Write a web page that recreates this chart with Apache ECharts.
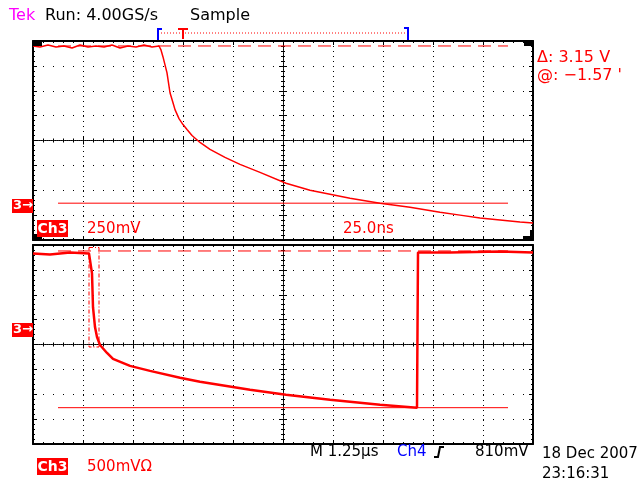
<!DOCTYPE html>
<html><head><meta charset="utf-8">
<script src="https://cdn.jsdelivr.net/npm/echarts@6/dist/echarts.min.js"></script>
<style>html,body{margin:0;padding:0;background:#fff}#c{width:639px;height:482px}</style>
</head><body><div id="c"></div>
<script>
// ---- Data ----
// Upper window: zoomed Ch3, 25.0 ns/div, 250 mV/div
const zoomTimeNs = [0,3.5,7.5,11.5,15.5,19.5,23.5,27.5,31.5,35.5,39.5,43.5,47.5,51.5,55.5,59.5,63,
  64,65,66,67,68.5,70,71,73,75,77,79.5,83.5,88.5,96,103.5,113.5,126.5,138.5,148.5,158.5,173.5,188.5,203.5,213.5,223.5,233.5,243.5,250];
const zoomVoltMv = [1590,1580,1600,1580,1590,1570,1600,1580,1590,1580,1600,1570,1590,1580,1600,1580,1590,
  1550,1480,1400,1320,1120,1020,950,860,800,750,690,620,550,470,400,320,210,140,100,60,10,-30,-80,-110,-140,-160,-180,-190];
// Lower window: main Ch3, 1.25 us/div, 500 mV/div
const mainTimeUs = [0,0.425,0.925,1.4,1.425,1.475,1.5,1.55,1.6,1.675,1.85,2.0,2.425,2.925,3.675,4.175,5.425,6.325,7.425,8.675,9.6,9.625,10.425,11.675,12.5];
const mainVoltMv = [1530,1510,1550,1530,1490,1130,450,50,-150,-310,-470,-590,-730,-830,-970,-1050,-1210,-1310,-1410,-1510,-1570,1550,1550,1570,1550];
// Cursor levels (mV)
const zoomCursorsMv = [1590, 10];
const mainCursorsMv = [1580, -1570];
// Zoom window position in main record (us)
const zoomWindowStartUs = 1.4;
const zoomWindowEndUs = 1.65;

// ---- Scales ----
const zoomNsPerDiv = 25, zoomMvPerDiv = 250, zoomGroundDiv = -2.56;
const mainUsPerDiv = 1.25, mainMvPerDiv = 500, mainGroundDiv = 0.6;
const zx = t => t / zoomNsPerDiv - 5;
const zy = v => v / zoomMvPerDiv + zoomGroundDiv;
const mx = t => t / mainUsPerDiv - 5;
const my = v => v / mainMvPerDiv + mainGroundDiv;

const RED = '#ff0000', BLK = '#000000', BLUE = '#0000ff';
const grids = [
  {left:33, top:41, width:500, height:199, show:false},
  {left:33, top:245, width:500, height:199, show:false}
];
function xAx(g, pos, offset, split, center) {
  return {type:'value', gridIndex:g, min:-5, max:5, interval:1, position:pos, offset:offset,
    axisLine:{show:true, onZero:false, lineStyle:{color:BLK, width:center?1:2, type:center?[1,1]:'solid'}},
    axisTick:{show:true, inside:true, length:4, lineStyle:{color:BLK}},
    minorTick:{show:true, splitNumber:5, length:2, lineStyle:{color:BLK}},
    axisLabel:{show:false},
    splitLine:{show:split, lineStyle:{color:BLK, width:1, type:[1,4]}},
    minorSplitLine:{show:false}};
}
function yAx(g, pos, offset, split, center) {
  return {type:'value', gridIndex:g, min:-4, max:4, interval:1, position:pos, offset:offset,
    axisLine:{show:true, onZero:false, lineStyle:{color:BLK, width:center?1:2, type:center?[1,1]:'solid'}},
    axisTick:{show:true, inside:true, length:4, lineStyle:{color:BLK}},
    minorTick:{show:true, splitNumber:5, length:2, lineStyle:{color:BLK}},
    axisLabel:{show:false},
    splitLine:{show:split, lineStyle:{color:BLK, width:1, type:[1,9]}},
    minorSplitLine:{show:false}};
}
const xAxes = [], yAxes = [];
[0,1].forEach(g => {
  xAxes.push(xAx(g,'bottom',0,true,false), xAx(g,'top',0,false,false), xAx(g,'top',-99.5,false,true), xAx(g,'bottom',-99.5,false,true));
  yAxes.push(yAx(g,'left',0,true,false), yAx(g,'right',0,false,false), yAx(g,'left',-250,false,true), yAx(g,'right',-250,false,true));
});

function hLine(g, yv, dashed) {
  return {type:'line', xAxisIndex:g*4, yAxisIndex:g*4, data:[[-4.5,yv],[4.5,yv]], symbol:'none', silent:true, z:1,
    lineStyle:{color:RED, width:1, type:dashed?[13,7]:'solid'}};
}
const zoomData = zoomTimeNs.map((t,i) => [zx(t), zy(zoomVoltMv[i])]);
const mainData = mainTimeUs.map((t,i) => [mx(t), my(mainVoltMv[i])]);
const wx0 = mx(zoomWindowStartUs), wx1 = mx(zoomWindowEndUs);
const rectData = [[wx0,3.9],[wx1,3.9],[wx1,-0.1],[wx0,-0.1],[wx0,3.9]];

const series = [
  hLine(0, zy(zoomCursorsMv[0]), true), hLine(0, zy(zoomCursorsMv[1]), false),
  hLine(1, my(mainCursorsMv[0]), true), hLine(1, my(mainCursorsMv[1]), false),
  {type:'line', xAxisIndex:0, yAxisIndex:0, data:zoomData, symbol:'none', z:3, lineStyle:{color:RED, width:1.5}},
  {type:'line', xAxisIndex:4, yAxisIndex:4, data:rectData, symbol:'none', z:2, lineStyle:{color:RED, width:1, type:[4,2,1,2]}},
  {type:'line', xAxisIndex:4, yAxisIndex:4, data:mainData, symbol:'none', z:3, lineStyle:{color:RED, width:2.5}}
];

const F = '15px "DejaVu Sans"', F16 = '16px "DejaVu Sans"';
function txt(x, y, s, fill, font, align) {
  return {type:'text', x:x, y:y, z:10, style:{text:s, fill:fill, font:font||F, verticalAlign:'middle', align:align||'left'}};
}
function box(x, y, w, h) { return {type:'rect', z:9, shape:{x:x,y:y,width:w,height:h}, style:{fill:RED}}; }
function blk(x, y, w, h) { return {type:'rect', z:9, shape:{x:x,y:y,width:w,height:h}, style:{fill:BLK}}; }
const graphic = [
  txt(9,16,'Tek','#ff00ff',F16), txt(45,16,'Run: 4.00GS/s',BLK,F16), txt(190,16,'Sample',BLK,F16),
  {type:'polyline', z:10, shape:{points:[[162,29],[158,29],[158,40]]}, style:{stroke:BLUE, lineWidth:2, fill:null}},
  {type:'polyline', z:10, shape:{points:[[404,28],[408,28],[408,40]]}, style:{stroke:BLUE, lineWidth:2, fill:null}},
  {type:'line', z:10, shape:{x1:161,y1:33,x2:406,y2:33}, style:{stroke:RED, lineWidth:1, lineDash:[1,2]}},
  {type:'line', z:10, shape:{x1:178,y1:29,x2:188,y2:29}, style:{stroke:RED, lineWidth:2}},
  {type:'line', z:10, shape:{x1:183,y1:29,x2:183,y2:39}, style:{stroke:RED, lineWidth:2}},
  txt(537,58,'\u0394: 3.15 V',RED,F16), txt(537,76,'@: \u22121.57 \'',RED,F16),
  blk(33,40,9,6), blk(524,40,9,6), blk(33,234,9,6), blk(523,236,10,4), blk(530,230,3,10),
  box(12,199,21,14), txt(13,206,'3\u2192','#fff','bold 13px "DejaVu Sans"'),
  box(12,323,21,14), txt(13,330,'3\u2192','#fff','bold 13px "DejaVu Sans"'),
  box(37,220,31,17), txt(52.5,229,'Ch3','#fff','bold 14px "DejaVu Sans"','center'),
  txt(87,229,'250mV',RED), txt(343,229,'25.0ns',RED),
  box(37,458,31,17), txt(52.5,467,'Ch3','#fff','bold 14px "DejaVu Sans"','center'),
  txt(87,467,'500mV\u03a9',RED),
  txt(310,452,'M 1.25\u00b5s',BLK), txt(397,452,'Ch4',BLUE),
  {type:'polyline', z:10, shape:{points:[[434,457],[438,457],[440,447],[444,447]]}, style:{stroke:BLK, lineWidth:2, fill:null}},
  txt(475,452,'810mV',BLK),
  txt(542,454,'18 Dec 2007',BLK), txt(542,474,'23:16:31',BLK)
];

const chart = echarts.init(document.getElementById('c'), null, {renderer:'canvas'});
chart.setOption({animation:false, backgroundColor:'#fff', grid:grids, xAxis:xAxes, yAxis:yAxes, series:series, graphic:graphic});
</script></body></html>
